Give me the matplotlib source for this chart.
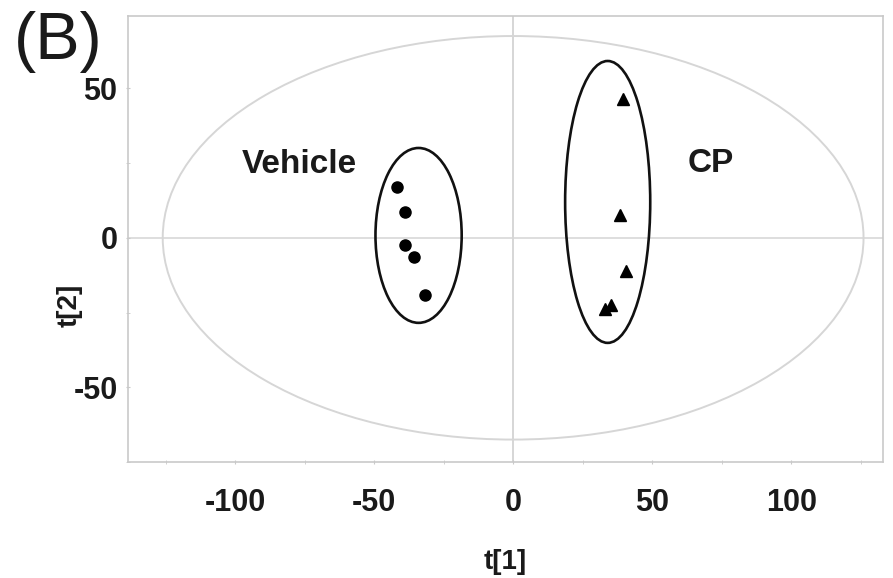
import matplotlib
matplotlib.use("Agg")
import matplotlib.pyplot as plt
from matplotlib.patches import Ellipse
from matplotlib.ticker import MultipleLocator

plt.rcParams['font.family'] = ['Liberation Sans', 'DejaVu Sans']
plt.rcParams['axes.unicode_minus'] = False

# PCA score values
vehicle_t1 = [-41.7, -38.8, -38.8, -35.6, -31.7]
vehicle_t2 = [17.1, 8.7, -2.5, -6.4, -19.1]
cp_t1 = [39.6, 38.5, 40.6, 33.1, 35.3]
cp_t2 = [46.5, 7.5, -11.2, -23.7, -22.4]

# Hotelling T2 ellipse semi-axes
hotelling_a = 126
hotelling_b = 67.5

# Group ellipses: center x, center y, width, height
vehicle_ell = (-34, 0.8, 31, 58.5)
cp_ell = (34, 12, 30.6, 94.3)

group_labels = ["Vehicle", "CP"]
label_pos = [(-77, 24.5), (71, 25)]

xticks = [-100, -50, 0, 50, 100]
yticks = [-50, 0, 50]

fig = plt.figure(figsize=(8.93, 5.78), dpi=100)
ax = fig.add_axes([0.1433, 0.2007, 0.8455, 0.7716])
ax.set_xlim(-138.5, 133)
ax.set_ylim(-75, 74.2)

grey = '#c9c9c9'
for s in ax.spines.values():
    s.set_color(grey)
    s.set_linewidth(1.2)

ax.axhline(0, color='#dedede', lw=1.4, zorder=1)
ax.axvline(0, color='#d6d6d6', lw=1.4, zorder=1)

ax.add_patch(Ellipse((0, 0), 2 * hotelling_a, 2 * hotelling_b, fill=False,
                     edgecolor='#d6d6d6', lw=1.4, zorder=2))
for cx, cy, w, h in (vehicle_ell, cp_ell):
    ax.add_patch(Ellipse((cx, cy), w, h, fill=False, edgecolor='#111111',
                         lw=1.9, zorder=3))

ax.plot(vehicle_t1, vehicle_t2, 'o', color='black', ms=8, ls='none', zorder=4)
ax.plot(cp_t1, cp_t2, '^', color='black', ms=9, ls='none', zorder=4)

for txt, (x, y) in zip(group_labels, label_pos):
    ax.text(x, y, txt, ha='center', va='center', fontsize=24,
            fontweight='bold', color='#1a1a1a')

ax.set_xticks(xticks)
ax.set_yticks(yticks)
ax.xaxis.set_minor_locator(MultipleLocator(25))
ax.yaxis.set_minor_locator(MultipleLocator(25))
ax.tick_params(axis='both', which='both', color=grey, length=3,
               direction='inout', labelsize=22, labelcolor='#1a1a1a')
ax.tick_params(axis='x', which='major', pad=17)
ax.tick_params(axis='y', which='major', pad=6)
for lab in ax.get_xticklabels() + ax.get_yticklabels():
    lab.set_fontweight('bold')

ax.set_xlabel('t[1]', fontsize=20, fontweight='bold', color='#1a1a1a', va='center')
ax.xaxis.set_label_coords(0.5, -0.224)
ax.set_ylabel('t[2]', fontsize=20, fontweight='bold', color='#1a1a1a', va='center')
ax.yaxis.set_label_coords(-0.077, 0.352)

fig.text(0.015, 0.927, '(B)', fontsize=48, ha='left', va='center', color='#1a1a1a')

fig.savefig('out.png', dpi=100)
